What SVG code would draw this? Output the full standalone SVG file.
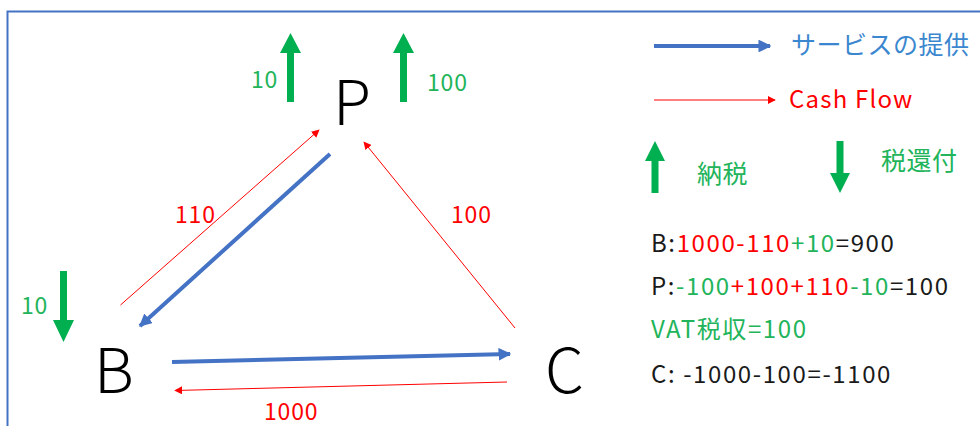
<svg xmlns="http://www.w3.org/2000/svg" width="980" height="426" viewBox="0 0 980 426">
<defs>
<marker id="bh" viewBox="0 0 10 10" refX="9" refY="5" markerWidth="3.2" markerHeight="3.2" orient="auto" markerUnits="strokeWidth"><path d="M0,0 L10,5 L0,10 z" fill="#4472C4"/></marker>
<marker id="rh" viewBox="0 0 10 10" refX="9" refY="5" markerWidth="8" markerHeight="8" orient="auto" markerUnits="strokeWidth"><path d="M0,0 L10,5 L0,10 z" fill="#FF0000"/></marker>
</defs>
<style>
.t{font-family:"Noto Sans CJK JP","Noto Sans",sans-serif;}
.big{font-size:62px;font-weight:300;fill:#000;}
.g{fill:#22B45A;}
.r{fill:#FF0000;}
.k{fill:#1a1a1a;}
.lbl{font-size:23px;letter-spacing:0.8px;}
.jp{font-size:25px;letter-spacing:0.5px;}
.eq{font-size:24px;letter-spacing:1.6px;}
.blue{stroke:#4472C4;stroke-width:4;fill:none;}
.red{stroke:#FF0000;stroke-width:1;fill:none;}
.ga{fill:#00B050;}
</style>
<rect width="980" height="426" fill="#fff"/>
<path d="M7.5,426 V11.5 H980" fill="none" stroke="#4472C4" stroke-width="2"/>

<g id="connectors">
<line class="blue" x1="330" y1="154" x2="140" y2="326" marker-end="url(#bh)"/>
<line class="blue" x1="172" y1="362" x2="510" y2="354" marker-end="url(#bh)"/>
<line class="red" x1="120.5" y1="305" x2="319" y2="130" marker-end="url(#rh)"/>
<line class="red" x1="515" y1="328" x2="364" y2="142" marker-end="url(#rh)"/>
<line class="red" x1="507" y1="382" x2="175" y2="390.5" marker-end="url(#rh)"/>
</g>

<g id="node-P"><text class="t big" x="333" y="125">P</text></g>
<g id="node-B"><text class="t big" x="94" y="393">B</text></g>
<g id="node-C"><text class="t big" x="545" y="393">C</text></g>

<g id="tax-arrows">
<path class="ga" d="M290.5,33 L301,53 L294,53 L294,102 L287,102 L287,53 L280,53 Z"/>
<path class="ga" d="M403.5,33 L414,53 L407,53 L407,102 L400,102 L400,53 L393,53 Z"/>
<path class="ga" d="M63.5,342 L74,320 L67,320 L67,271 L60,271 L60,320 L53,320 Z"/>
</g>

<g id="labels">
<text class="t lbl g" x="251" y="88">10</text>
<text class="t lbl g" x="427" y="91">100</text>
<text class="t lbl g" x="21" y="314">10</text>
<text class="t lbl r" x="175" y="223">110</text>
<text class="t lbl r" x="451" y="223">100</text>
<text class="t lbl r" x="264" y="420">1000</text>
</g>

<g id="legend">
<line class="blue" x1="654" y1="46" x2="770" y2="46" marker-end="url(#bh)"/>
<text class="t jp" fill="#3B87CF" x="791" y="54">サービスの提供</text>
<line class="red" x1="654" y1="100" x2="775" y2="100" marker-end="url(#rh)"/>
<text class="t r" style="font-size:24px;letter-spacing:1.2px" x="789" y="108">Cash Flow</text>
<path class="ga" d="M655,141 L665,161 L658.5,161 L658.5,193 L651.5,193 L651.5,161 L645,161 Z"/>
<text class="t jp g" x="697" y="183">納税</text>
<path class="ga" d="M840,193 L850,173 L843.5,173 L843.5,141 L836.5,141 L836.5,173 L830,173 Z"/>
<text class="t jp g" x="881" y="170">税還付</text>
</g>

<g id="summary">
<text class="t eq" x="651" y="252"><tspan class="k">B:</tspan><tspan class="r">1000-110</tspan><tspan class="g">+10</tspan><tspan class="k">=900</tspan></text>
<text class="t eq" x="651" y="295"><tspan class="k">P:</tspan><tspan class="g">-100</tspan><tspan class="r">+100+110</tspan><tspan class="g">-10</tspan><tspan class="k">=100</tspan></text>
<text class="t eq g" x="651" y="338">VAT税収=100</text>
<text class="t eq k" x="651" y="383">C: -1000-100=-1100</text>
</g>
</svg>
